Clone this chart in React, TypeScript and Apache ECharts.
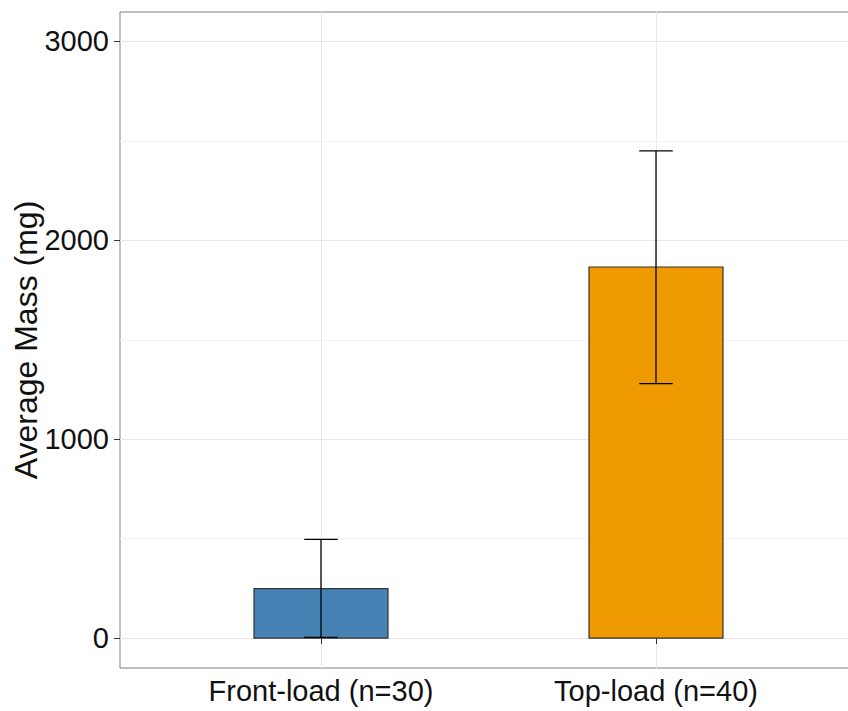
import React, { useEffect, useRef } from "react";
import * as echarts from "echarts";

const categories = ["Front-load (n=30)", "Top-load (n=40)"];
const categoryPositions = [1, 2];
const means = [249, 1866];
const lowerErr = [4, 1280];
const upperErr = [497, 2450];
const barColors = ["#4682B4", "#EE9A00"];
const yMajorTicks = [0, 1000, 2000, 3000];
const yMinorTicks = [500, 1500, 2500];

const FONT = "'Liberation Sans', Arial, sans-serif";

export default function App() {
  const ref = useRef<HTMLDivElement>(null);
  useEffect(() => {
    if (!ref.current) return;
    const chart = echarts.init(ref.current, null, { renderer: "svg" });
    const barData = categoryPositions.map((x, i) => [x, means[i], i]);
    const errData = categoryPositions.map((x, i) => [x, lowerErr[i], upperErr[i]]);
    chart.setOption({
      animation: false,
      backgroundColor: "#ffffff",
      grid: {
        left: 120,
        right: -9,
        top: 12,
        bottom: 43,
        containLabel: false,
        outerBoundsMode: "none",
        show: true,
        borderColor: "#808080",
        borderWidth: 1,
        backgroundColor: "transparent",
      },
      xAxis: {
        type: "value",
        min: 0.4,
        max: 2.6,
        axisLine: { show: false },
        axisTick: {
          show: true,
          customValues: categoryPositions,
          length: 6,
          lineStyle: { color: "#333333", width: 1 },
        },
        axisLabel: {
          customValues: categoryPositions,
          formatter: (v: number) => categories[Math.round(v) - 1] ?? "",
          fontSize: 29,
          fontFamily: FONT,
          color: "#111111",
          margin: 8,
        },
        splitLine: { show: true, lineStyle: { color: "#e8e8e8", width: 1 } },
      },
      yAxis: [
        {
          type: "value",
          min: -150,
          max: 3148,
          name: "Average Mass (mg)",
          nameLocation: "middle",
          nameGap: 78,
          nameMoveOverlap: false,
          nameTextStyle: { fontSize: 32, fontFamily: FONT, color: "#111111" },
          axisLine: { show: false },
          axisTick: {
            show: true,
            customValues: yMajorTicks,
            length: 6,
            lineStyle: { color: "#333333", width: 1 },
          },
          axisLabel: {
            customValues: yMajorTicks,
            formatter: (v: number) => String(v),
            fontSize: 29,
            fontFamily: FONT,
            color: "#111111",
            margin: 11,
          },
          splitLine: { show: true, lineStyle: { color: "#e8e8e8", width: 1 } },
        },
        {
          type: "value",
          min: -150,
          max: 3148,
          position: "left",
          axisLine: { show: false },
          axisTick: { show: false, customValues: yMinorTicks },
          axisLabel: { show: false, customValues: yMinorTicks },
          splitLine: { show: true, lineStyle: { color: "#f4f4f4", width: 1 } },
        },
      ],
      series: [
        {
          type: "custom",
          xAxisIndex: 0,
          yAxisIndex: 0,
          data: barData,
          renderItem: (params: any, api: any) => {
            const x = api.value(0);
            const y = api.value(1);
            const idx = api.value(2);
            const p0 = api.coord([x - 0.2, y]);
            const p1 = api.coord([x + 0.2, 0]);
            return {
              type: "rect",
              shape: { x: p0[0], y: p0[1], width: p1[0] - p0[0], height: p1[1] - p0[1] },
              style: { fill: barColors[idx], stroke: "#333333", lineWidth: 1.2 },
            };
          },
        },
        {
          type: "custom",
          xAxisIndex: 0,
          yAxisIndex: 0,
          data: errData,
          z: 3,
          renderItem: (params: any, api: any) => {
            const x = api.value(0);
            const lo = api.value(1);
            const hi = api.value(2);
            const pl = api.coord([x, lo]);
            const ph = api.coord([x, hi]);
            const capL = api.coord([x - 0.05, lo]);
            const capR = api.coord([x + 0.05, lo]);
            const capLh = api.coord([x - 0.05, hi]);
            const capRh = api.coord([x + 0.05, hi]);
            const style = { stroke: "#000000", lineWidth: 1.3 };
            return {
              type: "group",
              children: [
                { type: "line", shape: { x1: pl[0], y1: pl[1], x2: ph[0], y2: ph[1] }, style },
                { type: "line", shape: { x1: capL[0], y1: capL[1], x2: capR[0], y2: capR[1] }, style },
                { type: "line", shape: { x1: capLh[0], y1: capLh[1], x2: capRh[0], y2: capRh[1] }, style },
              ],
            };
          },
        },
      ],
    });
    return () => chart.dispose();
  }, []);
  return (
    <div
      ref={ref}
      style={{ position: "fixed", left: 0, top: 0, width: 848, height: 711 }}
    />
  );
}
